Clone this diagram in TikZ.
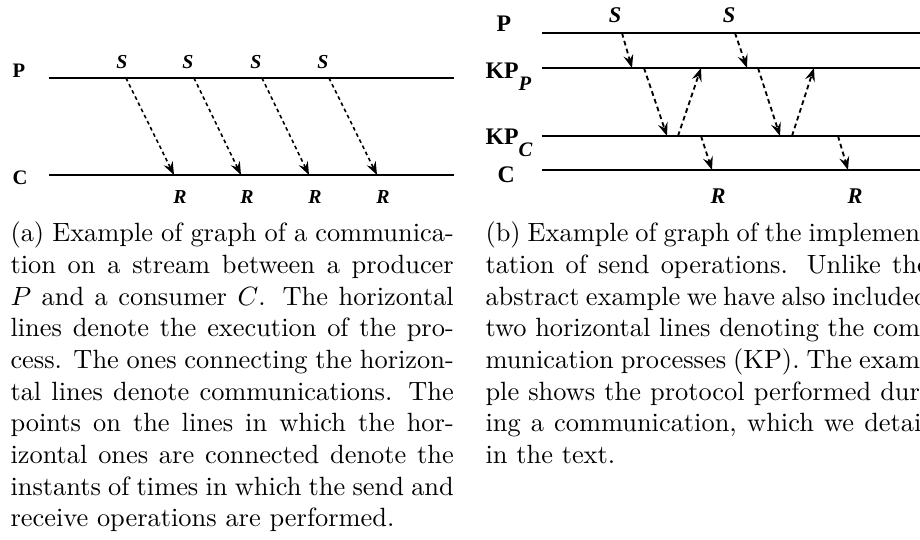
\documentclass[tikz,border=0pt]{standalone}
\usepackage{fontspec}
\newfontfamily\figfont{Liberation Serif}
\usetikzlibrary{arrows.meta}

\tikzset{
  proca/.style={font=\figfont\fontsize{7.8}{8}\selectfont\bfseries,inner sep=0pt},
  procb/.style={font=\figfont\fontsize{9}{10}\selectfont\bfseries,inner sep=0pt},
  eventa/.style={font=\figfont\fontsize{7.5}{8}\selectfont\bfseries\itshape,inner sep=0pt},
  eventb/.style={font=\figfont\fontsize{8.5}{9}\selectfont\bfseries\itshape,inner sep=0pt},
  msga/.style={->,line width=0.6pt,dash pattern=on 1.4pt off 1.2pt},
  msgb/.style={->,line width=0.7pt,dash pattern=on 1.8pt off 1.3pt},
  caption/.style={anchor=base west,inner sep=0pt,text width=168pt,align=justify}
}

\begin{document}
\begin{tikzpicture}[x=0.379pt,y=-0.379pt,>={Stealth[length=5pt,width=3.8pt,inset=1.8pt]}]
\useasboundingbox (0,0) rectangle (920,540);
\clip (0,0) rectangle (920,540);

% (a) producer and consumer
\draw[line width=0.65pt] (49,78)--(454,78);
\draw[line width=0.65pt] (49,175)--(454,175);
\node[proca,anchor=base west] (pa) at (12,78) {P};
\node[proca,anchor=base west] (ca) at (12,185) {C};

\coordinate (sa1) at (126,78);  \coordinate (ra1) at (174,175);
\coordinate (sa2) at (194,78);  \coordinate (ra2) at (241,175);
\coordinate (sa3) at (262,78);  \coordinate (ra3) at (309,175);
\coordinate (sa4) at (329,78);  \coordinate (ra4) at (377,175);

\node[eventa,anchor=base] (la1) at (122,69) {S};
\node[eventa,anchor=base] (la2) at (188,69) {S};
\node[eventa,anchor=base] (la3) at (256,69) {S};
\node[eventa,anchor=base] (la4) at (323,69) {S};
\node[eventa,anchor=base] (ma1) at (180,204) {R};
\node[eventa,anchor=base] (ma2) at (247,204) {R};
\node[eventa,anchor=base] (ma3) at (315,204) {R};
\node[eventa,anchor=base] (ma4) at (383,204) {R};

\draw[msga] (sa1)--(ra1);
\draw[msga] (sa2)--(ra2);
\draw[msga] (sa3)--(ra3);
\draw[msga] (sa4)--(ra4);

% (b) with the communication processes
\draw[line width=0.8pt] (542,33)--(930,33);
\draw[line width=0.8pt] (542,68)--(930,68);
\draw[line width=0.8pt] (542,136)--(930,136);
\draw[line width=0.8pt] (542,170)--(930,170);
\node[procb,anchor=base west] (pb) at (496,32) {P};
\node[procb,anchor=base west] (kpp) at (485,79)
    {KP\raisebox{-4.2pt}{\fontsize{7.8}{8}\selectfont\itshape P}};
\node[procb,anchor=base west] (kpc) at (485,145)
    {KP\raisebox{-4.5pt}{\fontsize{7.8}{8}\selectfont\itshape C}};
\node[procb,anchor=base west] (cb) at (497,183) {C};

\node[eventb,anchor=base] (lb1) at (615,23) {S};
\node[eventb,anchor=base] (lb2) at (729,23) {S};
\node[eventb,anchor=base] (mb1) at (718,204) {R};
\node[eventb,anchor=base] (mb2) at (855,204) {R};

\coordinate (sb1) at (622,33);  \coordinate (sb2) at (735,33);
\coordinate (ka1) at (632,68);  \coordinate (ka2) at (747,68);
\coordinate (kb1) at (644,68);  \coordinate (kb2) at (758,68);
\coordinate (kc1) at (667,136); \coordinate (kc2) at (780,136);
\coordinate (kd1) at (678,136); \coordinate (kd2) at (792,136);
\coordinate (ke1) at (701,68);  \coordinate (ke2) at (814,68);
\coordinate (kf1) at (701,136); \coordinate (kf2) at (838,136);
\coordinate (rb1) at (712,170); \coordinate (rb2) at (848,170);

\draw[msgb] (sb1)--(ka1);
\draw[msgb] (kb1)--(kc1);
\draw[msgb] (kd1)--(ke1);
\draw[msgb] (kf1)--(rb1);
\draw[msgb] (sb2)--(ka2);
\draw[msgb] (kb2)--(kc2);
\draw[msgb] (kd2)--(ke2);
\draw[msgb] (kf2)--(rb2);

% captions
\node[caption] (capa) at (10,242) {(a) Example of graph of a communication on a
  stream between a producer $P$ and a consumer $C$. The horizontal lines denote
  the execution of the process. The ones connecting the horizontal lines denote
  communications. The points on the lines in which the horizontal ones are
  connected denote the instants of times in which the send and receive
  operations are performed.};
\node[caption] (capb) at (485,242) {(b) Example of graph of the implementation
  of send operations. Unlike the abstract example we have also included two
  horizontal lines denoting the communication processes (KP). The example shows
  the protocol performed during a communication, which we detail in the text.};
\end{tikzpicture}
\end{document}
